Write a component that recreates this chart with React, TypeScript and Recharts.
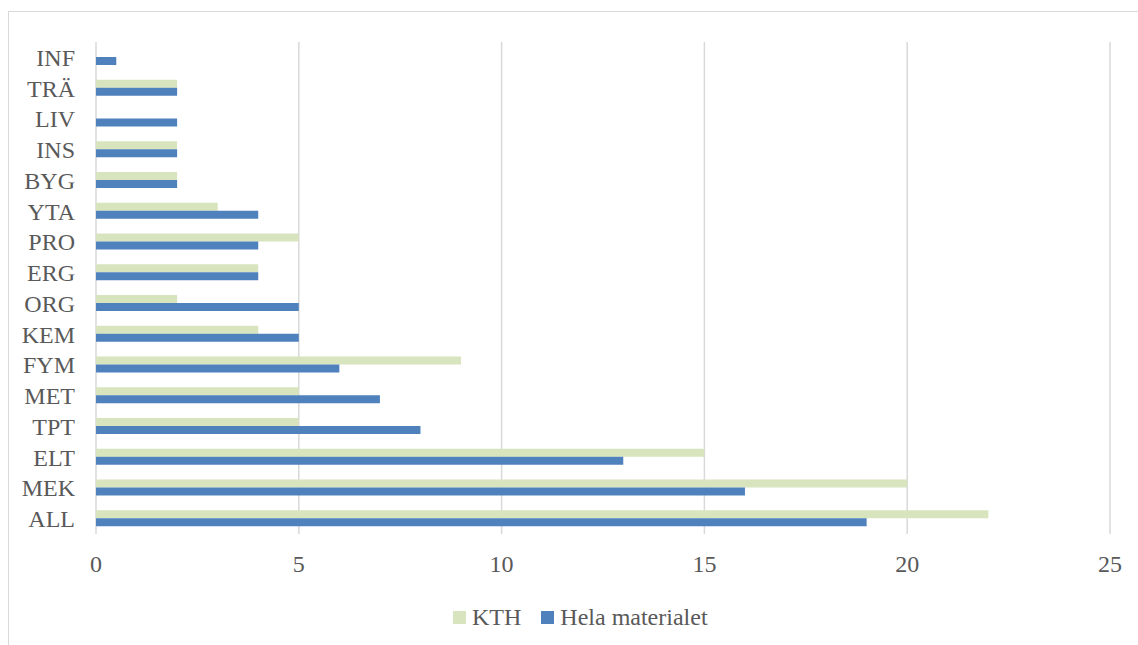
import { BarChart, Bar, XAxis, YAxis, CartesianGrid, Legend } from "recharts"

const categories = ["INF", "TRÄ", "LIV", "INS", "BYG", "YTA", "PRO", "ERG", "ORG", "KEM", "FYM", "MET", "TPT", "ELT", "MEK", "ALL"]
const kth = [0, 2, 0, 2, 2, 3, 5, 4, 2, 4, 9, 5, 5, 15, 20, 22]
const hela = [0.5, 2, 2, 2, 2, 4, 4, 4, 5, 5, 6, 7, 8, 13, 16, 19]
const xTicks = [0, 5, 10, 15, 20, 25]

const data = categories.map((name, i) => ({ name, kth: kth[i], hela: hela[i] }))

const FONT = "'Liberation Serif', serif"
const TEXT = "#595959"
const KTH_COLOR = "#d7e4bd"
const HELA_COLOR = "#4f81bd"

function LegendContent() {
  const items = [
    { label: "KTH", color: KTH_COLOR },
    { label: "Hela materialet", color: HELA_COLOR },
  ]
  return (
    <div style={{ display: "flex", alignItems: "center", fontFamily: FONT, fontSize: 24, color: TEXT, height: 26 }}>
      {items.map((it, i) => (
        <div key={it.label} style={{ display: "flex", alignItems: "center", marginRight: i === 0 ? 20 : 0 }}>
          <span style={{ width: 13, height: 13, background: it.color, display: "inline-block", marginRight: 6 }} />
          <span>{it.label}</span>
        </div>
      ))}
    </div>
  )
}

export default function App() {
  return (
    <div style={{ position: "absolute", left: 0, top: 0, width: 1138, height: 645, background: "#fff", overflow: "hidden" }}>
      <div
        style={{
          position: "absolute",
          left: 8,
          top: 11,
          width: 1140,
          height: 650,
          borderTop: "1.5px solid #d9d9d9",
          borderLeft: "1.5px solid #d9d9d9",
          boxSizing: "border-box",
        }}
      />
      <div style={{ position: "absolute", left: 0, top: 0 }}>
        <BarChart
          width={1138}
          height={645}
          data={data}
          layout="vertical"
          margin={{ top: 42, right: 28, left: 0, bottom: 15 }}
          barGap={0}
          barSize={8}
        >
          <CartesianGrid horizontal={false} stroke="#d9d9d9" strokeWidth={1.5} />
          <XAxis
            type="number"
            domain={[0, 25]}
            ticks={xTicks}
            axisLine={false}
            tickLine={false}
            tickSize={0}
            tickMargin={21}
            height={70}
            tick={{ fill: TEXT, fontFamily: FONT, fontSize: 24 }}
          />
          <YAxis
            type="category"
            dataKey="name"
            width={96}
            axisLine={false}
            tickLine={false}
            tickSize={6}
            tickMargin={15}
            interval={0}
            tick={{ fill: TEXT, fontFamily: FONT, fontSize: 24 }}
          />
          <Legend
            verticalAlign="bottom"
            content={<LegendContent />}
            wrapperStyle={{ left: 453, width: "auto" }}
          />
          <Bar dataKey="kth" name="KTH" fill={KTH_COLOR} isAnimationActive={false} />
          <Bar dataKey="hela" name="Hela materialet" fill={HELA_COLOR} isAnimationActive={false} />
        </BarChart>
      </div>
    </div>
  )
}
